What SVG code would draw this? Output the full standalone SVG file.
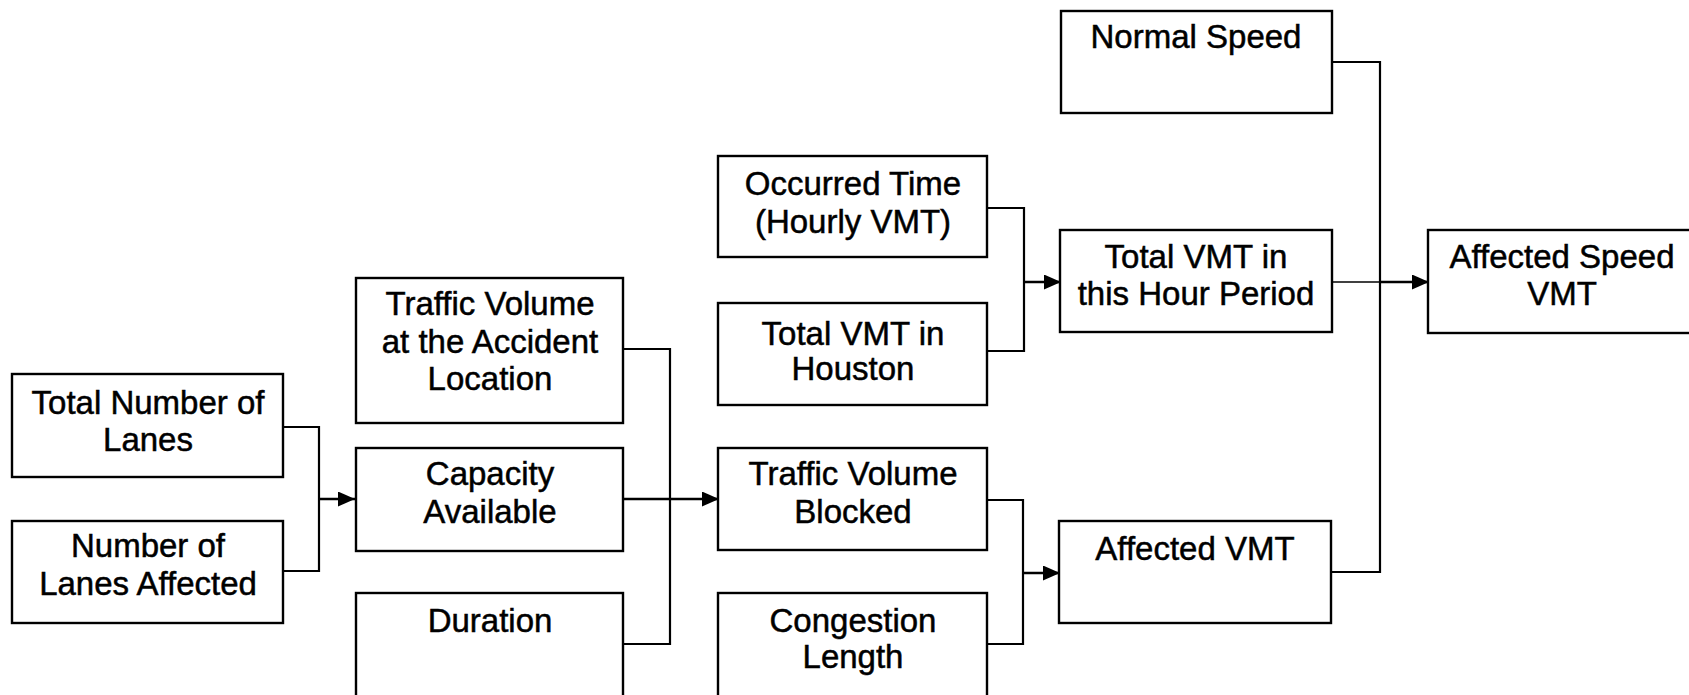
<svg xmlns="http://www.w3.org/2000/svg" width="1689" height="695" viewBox="0 0 1689 695">
<style>
.box{fill:#fff;stroke:#000;stroke-width:2.4}
.t{font-family:"Liberation Sans",Arial,sans-serif;font-size:33px;fill:#000;stroke:#000;stroke-width:0.5;text-anchor:middle}
.c{fill:none;stroke:#000;stroke-width:2.2}
.a{fill:none;stroke:#000;stroke-width:2.6}
</style>
<defs>
<marker id="arr" markerUnits="userSpaceOnUse" markerWidth="17" markerHeight="15" refX="17" refY="7.5" orient="auto">
<path d="M0,0 L17,7.5 L0,15 Z" fill="#000"/>
</marker>
</defs>
<rect width="1689" height="695" fill="#fff"/>
<g id="connectors">
<path class="c" d="M283,427 H319 V571 H283"/>
<path class="a" d="M319,499 H355" marker-end="url(#arr)"/>
<path class="c" d="M623,349 H670 V644 H623"/>
<path class="a" d="M623,499 H719" marker-end="url(#arr)"/>
<path class="c" d="M987,208 H1024 V351 H987"/>
<path class="a" d="M1024,282 H1061" marker-end="url(#arr)"/>
<path class="c" d="M987,500 H1023 V644 H987"/>
<path class="a" d="M1023,573 H1060" marker-end="url(#arr)"/>
<path class="c" d="M1332,62 H1380 V572 H1331"/>
<path class="c" style="stroke-width:1.5" d="M1332,282 H1380"/>
<path class="a" d="M1380,282 H1429" marker-end="url(#arr)"/>
</g>
<g id="n_total_lanes"><rect class="box" x="12" y="374" width="271" height="103"/><text class="t" x="148" y="414">Total Number of</text><text class="t" x="148" y="451">Lanes</text></g>
<g id="n_lanes_affected"><rect class="box" x="12" y="521" width="271" height="102"/><text class="t" x="148" y="557">Number of</text><text class="t" x="148" y="595">Lanes Affected</text></g>
<g id="n_traffic_volume"><rect class="box" x="356" y="278" width="267" height="145"/><text class="t" x="490" y="315">Traffic Volume</text><text class="t" x="490" y="353">at the Accident</text><text class="t" x="490" y="390">Location</text></g>
<g id="n_capacity"><rect class="box" x="356" y="448" width="267" height="103"/><text class="t" x="490" y="485">Capacity</text><text class="t" x="490" y="523">Available</text></g>
<g id="n_duration"><rect class="box" x="356" y="593" width="267" height="110"/><text class="t" x="490" y="632">Duration</text></g>
<g id="n_occurred"><rect class="box" x="718" y="156" width="269" height="101"/><text class="t" x="853" y="195">Occurred Time</text><text class="t" x="853" y="233">(Hourly VMT)</text></g>
<g id="n_total_vmt_houston"><rect class="box" x="718" y="303" width="269" height="102"/><text class="t" x="853" y="345">Total VMT in</text><text class="t" x="853" y="380">Houston</text></g>
<g id="n_tv_blocked"><rect class="box" x="718" y="448" width="269" height="102"/><text class="t" x="853" y="485">Traffic Volume</text><text class="t" x="853" y="523">Blocked</text></g>
<g id="n_congestion"><rect class="box" x="718" y="593" width="269" height="110"/><text class="t" x="853" y="632">Congestion</text><text class="t" x="853" y="668">Length</text></g>
<g id="n_normal_speed"><rect class="box" x="1061" y="11" width="271" height="102"/><text class="t" x="1196" y="48">Normal Speed</text></g>
<g id="n_total_vmt_hour"><rect class="box" x="1060" y="230" width="272" height="102"/><text class="t" x="1196" y="268">Total VMT in</text><text class="t" x="1196" y="305">this Hour Period</text></g>
<g id="n_affected_vmt"><rect class="box" x="1059" y="521" width="272" height="102"/><text class="t" x="1195" y="560">Affected VMT</text></g>
<g id="n_affected_speed"><rect class="box" x="1428" y="230" width="270" height="103"/><text class="t" x="1562" y="268">Affected Speed</text><text class="t" x="1562" y="305">VMT</text></g>
</svg>
